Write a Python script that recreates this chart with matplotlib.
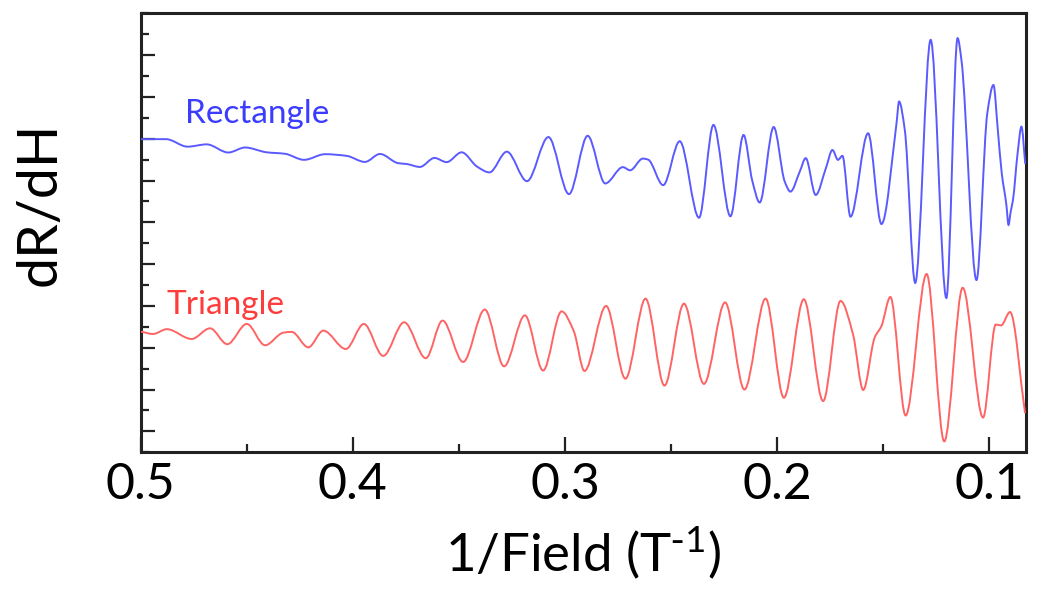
import numpy as np
import matplotlib
matplotlib.use("Agg")
import matplotlib.pyplot as plt
from matplotlib.path import Path
from matplotlib.patches import PathPatch
from matplotlib.ticker import MultipleLocator

# ---- data: derivative traces vs inverse field (arbitrary vertical units) ----
rect_x = [0.4999, 0.4881, 0.4779, 0.4689, 0.4587, 0.4508, 0.4406, 0.4320, 0.4230,
          0.4131, 0.4029, 0.3943, 0.3872, 0.3786, 0.3746, 0.3684, 0.3615, 0.3558,
          0.3487, 0.3415, 0.3356, 0.3274, 0.3179, 0.3078, 0.2981, 0.2893, 0.2810,
          0.2727, 0.2693, 0.2633, 0.2608, 0.2537, 0.2459, 0.2368, 0.2300, 0.2220,
          0.2158, 0.2117, 0.2082, 0.2016, 0.1964, 0.1937, 0.1893, 0.1865, 0.1818,
          0.1770, 0.1739, 0.1713, 0.1692, 0.1654, 0.1571, 0.1508, 0.1437, 0.1425,
          0.1398, 0.1349, 0.1276, 0.1202, 0.1149, 0.1131, 0.1060, 0.1009, 0.0980,
          0.0959, 0.0941, 0.0919, 0.0909, 0.0899, 0.0888, 0.0866, 0.0848, 0.0830]
rect_y = [14.98, 14.98, 14.62, 14.73, 14.34, 14.58, 14.35, 14.28, 13.99,
          14.26, 14.18, 13.89, 14.27, 13.83, 13.79, 13.65, 14.08, 13.88,
          14.35, 13.67, 13.39, 14.38, 12.97, 15.08, 12.35, 15.14, 12.86,
          13.64, 13.49, 14.05, 14.00, 12.78, 14.88, 11.22, 15.66, 11.29,
          15.18, 12.99, 11.95, 15.56, 12.95, 12.47, 13.43, 14.07, 12.31,
          13.59, 14.46, 13.99, 14.18, 11.27, 15.26, 10.92, 15.74, 16.78,
          15.42, 8.10, 19.73, 7.38, 19.81, 18.77, 8.24, 16.22, 17.57,
          15.37, 13.36, 11.83, 10.88, 11.50, 12.07, 14.32, 15.58, 13.79]

tri_x = [0.4999, 0.4941, 0.4877, 0.4760, 0.4673, 0.4592, 0.4500, 0.4414, 0.4328,
         0.4288, 0.4210, 0.4139, 0.4033, 0.3948, 0.3857, 0.3758, 0.3656, 0.3577,
         0.3480, 0.3378, 0.3287, 0.3189, 0.3103, 0.3016, 0.2958, 0.2908, 0.2806,
         0.2715, 0.2620, 0.2531, 0.2439, 0.2345, 0.2245, 0.2154, 0.2054, 0.1968,
         0.1874, 0.1783, 0.1701, 0.1642, 0.1594, 0.1540, 0.1508, 0.1466, 0.1394,
         0.1295, 0.1212, 0.1125, 0.1029, 0.0969, 0.0944, 0.0902, 0.0831]
tri_y = [5.77, 5.66, 5.89, 5.42, 5.93, 5.17, 6.14, 5.12, 5.72,
         5.76, 5.02, 5.82, 4.94, 6.14, 4.61, 6.22, 4.50, 6.30,
         4.32, 6.83, 4.11, 6.55, 3.91, 6.74, 5.78, 3.89, 7.00,
         3.52, 7.35, 3.19, 7.11, 3.27, 7.17, 3.00, 7.35, 2.61,
         7.32, 2.45, 7.24, 5.64, 2.98, 5.49, 6.04, 7.43, 1.76,
         8.53, 0.52, 7.87, 1.66, 6.11, 6.07, 6.71, 1.87]

series_labels = ["Rectangle", "Triangle"]
x_ticks = [0.5, 0.4, 0.3, 0.2, 0.1]
x_tick_labels = ["0.5", "0.4", "0.3", "0.2", "0.1"]


def smooth_trace(xs, ys):
    """Monotone cubic (Fritsch-Butland) Hermite curve through the readings,
    returned as a Bezier path in data coordinates."""
    xs = np.asarray(xs, float)
    ys = np.asarray(ys, float)
    n = len(xs)
    h = np.diff(xs)
    d = np.diff(ys) / h
    m = np.zeros(n)
    m[0], m[-1] = d[0], d[-1]
    for i in range(1, n - 1):
        if d[i - 1] * d[i] > 0:
            w1 = 2 * h[i] + h[i - 1]
            w2 = h[i] + 2 * h[i - 1]
            m[i] = (w1 + w2) / (w1 / d[i - 1] + w2 / d[i])
    verts = [(xs[0], ys[0])]
    codes = [Path.MOVETO]
    for i in range(n - 1):
        t = h[i] / 3.0
        verts += [(xs[i] + t, ys[i] + m[i] * t),
                  (xs[i + 1] - t, ys[i + 1] - m[i + 1] * t),
                  (xs[i + 1], ys[i + 1])]
        codes += [Path.CURVE4] * 3
    return Path(verts, codes)


plt.rcParams["font.family"] = ["Lato", "DejaVu Sans"]
plt.rcParams["mathtext.default"] = "regular"

fig = plt.figure(figsize=(10.37, 5.94), dpi=100)
ax = fig.add_axes([0.1357, 0.2386, 0.8534, 0.7390])

blue_line = "#5a5aff"
red_line = "#ff6464"

ax.add_patch(PathPatch(smooth_trace(rect_x, rect_y), fill=False,
                       edgecolor=blue_line, lw=1.4, zorder=3))
ax.add_patch(PathPatch(smooth_trace(tri_x, tri_y), fill=False,
                       edgecolor=red_line, lw=1.4, zorder=3))

ax.set_xlim(0.5, 0.0828)
ax.set_ylim(0, 21)

ax.text(0.4791, 15.76, series_labels[0], color="#3c3cff", fontsize=24)
ax.text(0.4877, 6.62, series_labels[1], color="#ff3c3c", fontsize=24)

ax.set_xticks(x_ticks)
ax.set_xticklabels(x_tick_labels)
ax.xaxis.set_minor_locator(MultipleLocator(0.05))
ax.set_yticks(np.arange(1, 21, 2))
ax.yaxis.set_minor_locator(MultipleLocator(1))
ax.set_yticklabels([])

ax.tick_params(axis="both", which="both", direction="in", color="#222222",
               width=1.6, top=False, right=False)
ax.tick_params(axis="x", which="major", length=11, labelsize=36, pad=7)
ax.tick_params(axis="x", which="minor", length=6)
ax.tick_params(axis="y", which="major", length=10)
ax.tick_params(axis="y", which="minor", length=6)

for s in ax.spines.values():
    s.set_color("#222222")
    s.set_linewidth(2.2)

ax.set_xlabel(r"1/Field (T$^{\text{-}1}$)", fontsize=38)
ax.xaxis.set_label_coords(0.5, -0.163)
ax.set_ylabel("dR/dH", fontsize=40)
ax.yaxis.set_label_coords(-0.085, 0.566)

fig.savefig("out.png", dpi=100, facecolor="white")
